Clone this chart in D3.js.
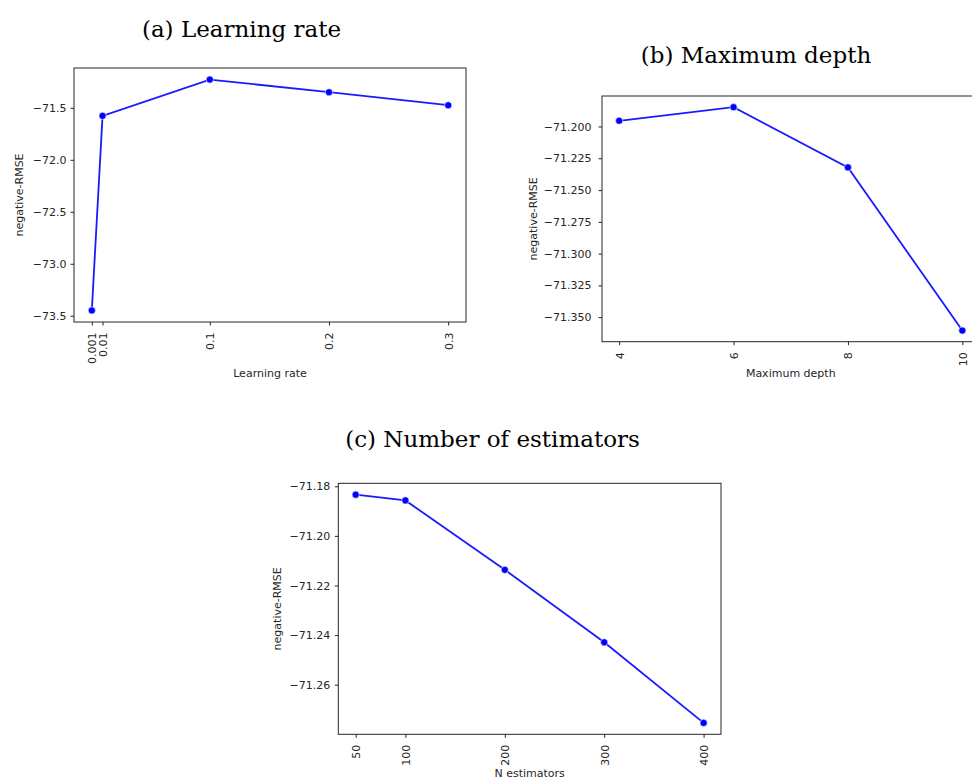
<!DOCTYPE html>
<html>
<head>
<meta charset="utf-8">
<script src="https://cdn.jsdelivr.net/npm/d3@7"></script>
<style>
  html, body { margin: 0; padding: 0; background: #ffffff; }
  svg { display: block; }
</style>
</head>
<body>
<svg id="chart" width="972" height="780"></svg>
<script>
// ---- data ----
const lrValues   = [0.001, 0.01, 0.1, 0.2, 0.3];
const lrLabels   = ["0.001", "0.01", "0.1", "0.2", "0.3"];
const lrScores   = [-73.449, -71.577, -71.228, -71.350, -71.475];
const lrYTicks   = [-71.5, -72.0, -72.5, -73.0, -73.5];

const depthValues = [4, 6, 8, 10];
const depthLabels = ["4", "6", "8", "10"];
const depthScores = [-71.1955, -71.1848, -71.2322, -71.3605];
const depthYTicks = [-71.200, -71.225, -71.250, -71.275, -71.300, -71.325, -71.350];

const estValues = [50, 100, 200, 300, 400];
const estLabels = ["50", "100", "200", "300", "400"];
const estScores = [-71.1834, -71.1857, -71.2137, -71.2429, -71.2754];
const estYTicks = [-71.18, -71.20, -71.22, -71.24, -71.26];

const titles = ["(a) Learning rate", "(b) Maximum depth", "(c) Number of estimators"];
const xTitles = ["Learning rate", "Maximum depth", "N estimators"];
const yTitle = "negative-RMSE";

// ---- layout ----
const svg = d3.select("#chart");
const LINE = "#1a1aff";
const INK = "#262626";

function padDomain(vals) {
  const [a, b] = d3.extent(vals);
  const m = (b - a) * 0.05;
  return [a - m, b + m];
}

function panel(cfg) {
  const x = d3.scaleLinear().domain(padDomain(cfg.xs)).range([cfg.left, cfg.right]);
  const y = d3.scaleLinear().domain(padDomain(cfg.ys)).range([cfg.bottom, cfg.top]);
  const g = svg.append("g");

  // title
  g.append("text")
    .attr("x", cfg.titleX).attr("y", cfg.titleY)
    .attr("text-anchor", "middle")
    .style("font-family", "'DejaVu Serif', serif")
    .style("font-size", "23px")
    .attr("fill", "#000")
    .text(cfg.title);

  // y axis
  const yAxis = d3.axisLeft(y).tickValues(cfg.yTicks).tickFormat(d3.format(cfg.yFmt))
    .tickSize(3.5).tickPadding(cfg.yPad);
  const ya = g.append("g").attr("transform", `translate(${cfg.left},0)`).call(yAxis);
  ya.select(".domain").remove();
  ya.selectAll(".tick line").attr("stroke", INK);
  ya.selectAll(".tick text").attr("fill", INK)
    .style("font-family", "'DejaVu Sans', sans-serif").style("font-size", "11px");

  // x axis
  const xAxis = d3.axisBottom(x).tickValues(cfg.xs).tickFormat((d, i) => cfg.xLabels[i])
    .tickSize(3.5);
  const xa = g.append("g").attr("transform", `translate(0,${cfg.bottom})`).call(xAxis);
  xa.select(".domain").remove();
  xa.selectAll(".tick line").attr("stroke", INK);
  xa.selectAll(".tick text")
    .attr("fill", INK)
    .style("font-family", "'DejaVu Sans', sans-serif").style("font-size", "11px")
    .attr("text-anchor", "end")
    .attr("x", 0).attr("y", 0).attr("dy", "0.35em")
    .attr("transform", "translate(0,10.5) rotate(-90)");

  // frame
  g.append("rect")
    .attr("x", cfg.left).attr("y", cfg.top)
    .attr("width", cfg.right - cfg.left).attr("height", cfg.bottom - cfg.top)
    .attr("fill", "none").attr("stroke", INK).attr("stroke-width", 1);

  // axis titles
  g.append("text")
    .attr("x", (cfg.left + cfg.right) / 2).attr("y", cfg.xTitleY)
    .attr("text-anchor", "middle")
    .style("font-family", "'DejaVu Sans', sans-serif").style("font-size", "11px")
    .attr("fill", INK).text(cfg.xTitle);
  g.append("text")
    .attr("transform", `translate(${cfg.yTitleX},${(cfg.top + cfg.bottom) / 2}) rotate(-90)`)
    .attr("text-anchor", "middle").attr("dy", "0.35em")
    .style("font-family", "'DejaVu Sans', sans-serif").style("font-size", "11px")
    .attr("fill", INK).text(yTitle);

  // line + markers
  const pts = cfg.xs.map((v, i) => [v, cfg.ys[i]]);
  g.append("path").datum(pts)
    .attr("d", d3.line().x(d => x(d[0])).y(d => y(d[1])))
    .attr("fill", "none").attr("stroke", LINE).attr("stroke-width", 1.8);
  g.selectAll("circle.pt").data(pts).join("circle")
    .attr("class", "pt")
    .attr("cx", d => x(d[0])).attr("cy", d => y(d[1]))
    .attr("r", 3.6).attr("fill", "#0000ff")
    .attr("stroke", "#ffffff").attr("stroke-width", 0.6);
}

panel({
  xs: lrValues, ys: lrScores, xLabels: lrLabels, yTicks: lrYTicks, yFmt: ".1f", yPad: 4,
  left: 74, right: 466, top: 68, bottom: 322,
  title: titles[0], titleX: 241.5, titleY: 37,
  xTitle: xTitles[0], xTitleY: 377, yTitleX: 19
});
panel({
  xs: depthValues, ys: depthScores, xLabels: depthLabels, yTicks: depthYTicks, yFmt: ".3f", yPad: 7,
  left: 602, right: 979.5, top: 96, bottom: 341.7,
  title: titles[1], titleX: 756, titleY: 63,
  xTitle: xTitles[1], xTitleY: 377, yTitleX: 533
});
panel({
  xs: estValues, ys: estScores, xLabels: estLabels, yTicks: estYTicks, yFmt: ".2f", yPad: 4.5,
  left: 338.3, right: 721, top: 483.3, bottom: 734.3,
  title: titles[2], titleX: 492.5, titleY: 447,
  xTitle: xTitles[2], xTitleY: 777, yTitleX: 277
});
</script>
</body>
</html>
